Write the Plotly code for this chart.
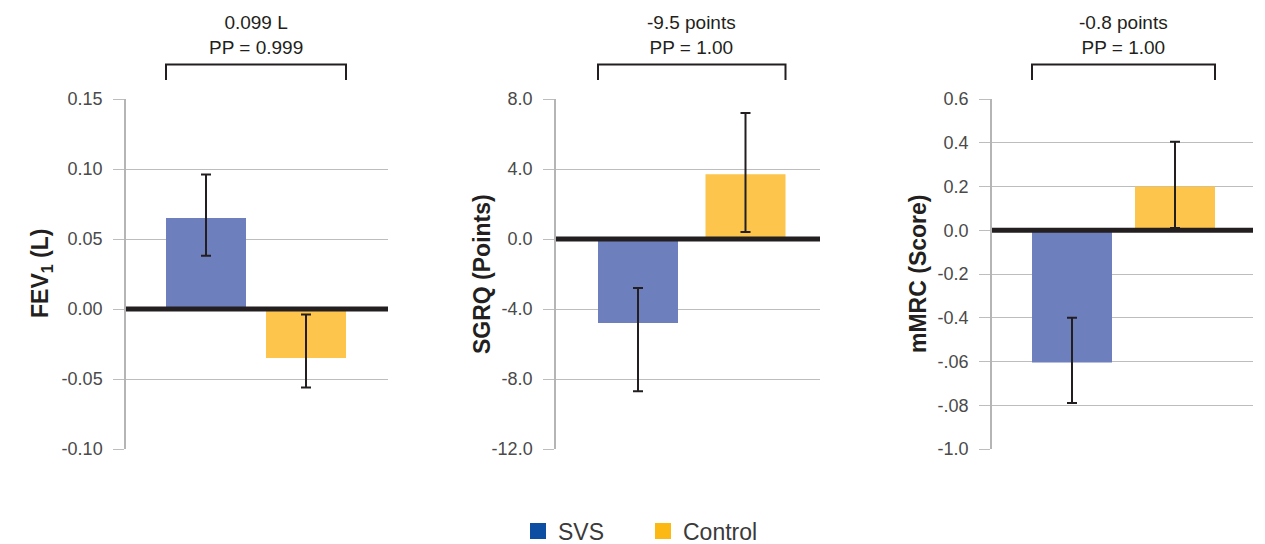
import plotly.graph_objects as go

# ---- data ----
groups = ["SVS", "Control"]

fev1_values = [0.065, -0.035]
fev1_high = [0.096, -0.004]
fev1_low = [0.038, -0.056]

sgrq_values = [-4.8, 3.7]
sgrq_high = [-2.8, 7.2]
sgrq_low = [-8.7, 0.4]

mmrc_values = [-0.605, 0.20]
mmrc_high = [-0.40, 0.405]
mmrc_low = [-0.79, 0.01]

fev1_ticks = [-0.10, -0.05, 0.0, 0.05, 0.10, 0.15]
fev1_ticktext = ["-0.10", "-0.05", "0.00", "0.05", "0.10", "0.15"]
sgrq_ticks = [-12, -8, -4, 0, 4, 8]
sgrq_ticktext = ["-12.0", "-8.0", "-4.0", "0.0", "4.0", "8.0"]
mmrc_ticks = [-1.0, -0.8, -0.6, -0.4, -0.2, 0.0, 0.2, 0.4, 0.6]
mmrc_ticktext = ["-1.0", "-.08", "-.06", "-0.4", "-0.2", "0.0", "0.2", "0.4", "0.6"]

axis_titles = ["FEV<sub>1</sub> (L)", "SGRQ (Points)", "mMRC (Score)"]
diff_labels = ["0.099 L<br>PP = 0.999", "-9.5 points<br>PP = 1.00", "-0.8 points<br>PP = 1.00"]

bar_colors = ["#6E7FBD", "#FDC54B"]
legend_colors = ["#0B4EA2", "#FDB913"]

FONT = "Liberation Sans, Arial, Helvetica, sans-serif"
OFF = 8  # page body margin
W, H = 1265 - OFF, 544 - OFF
PLOT_TOP, PLOT_BOT = 99 - OFF, 449 - OFF

# panel geometry (screen pixels): axis left, right, SVS centre, Control centre
panels = [
    dict(left=126, right=388, c0=206, c1=306, vals=fev1_values, hi=fev1_high, lo=fev1_low,
         yr=[-0.10, 0.15], tv=fev1_ticks, tt=fev1_ticktext, title_x=41),
    dict(left=556, right=820, c0=638, c1=745.5, vals=sgrq_values, hi=sgrq_high, lo=sgrq_low,
         yr=[-12, 8], tv=sgrq_ticks, tt=sgrq_ticktext, title_x=482),
    dict(left=992, right=1253, c0=1072, c1=1175, vals=mmrc_values, hi=mmrc_high, lo=mmrc_low,
         yr=[-1.0, 0.6], tv=mmrc_ticks, tt=mmrc_ticktext, title_x=918),
]

fig = go.Figure()
shapes = []
annotations = []
grid_color = "#BDBDBD"

def ypaper(px):
    return (PLOT_BOT - (px - OFF)) / (PLOT_BOT - PLOT_TOP)

def xpaper(px):
    return (px - OFF) / W

for i, p in enumerate(panels):
    n = "" if i == 0 else str(i + 1)
    xa, ya = "x" + n, "y" + n
    spacing = p["c1"] - p["c0"]
    width = 80 / spacing
    xr = [-(p["c0"] - p["left"]) / spacing, 1 + (p["right"] - p["c1"]) / spacing]
    for j, g in enumerate(groups):
        v = p["vals"][j]
        fig.add_trace(go.Bar(
            x=[j], y=[v], width=[width], marker=dict(color=bar_colors[j], line=dict(width=0)),
            error_y=dict(type="data", symmetric=False, array=[p["hi"][j] - v],
                         arrayminus=[v - p["lo"][j]], color="#231F20", thickness=2, width=5),
            xaxis=xa, yaxis=ya, showlegend=False, name=g, hoverinfo="skip"))
    dom = [xpaper(p["left"]), xpaper(p["right"])]
    fig.layout["xaxis" + n] = dict(domain=dom, range=xr, showgrid=False, zeroline=False,
                                   showticklabels=False, ticks="", showline=False, anchor=ya,
                                   fixedrange=True)
    fig.layout["yaxis" + n] = dict(domain=[0, 1], range=p["yr"], tickvals=p["tv"], ticktext=p["tt"],
                                   showgrid=True, gridcolor=grid_color, gridwidth=1.2,
                                   zeroline=False, showline=True, linecolor="#B5B5B5", linewidth=1.5,
                                   ticks="outside", ticklen=11, tickcolor=grid_color, tickwidth=1.2,
                                   ticklabelstandoff=7,
                                   tickfont=dict(family=FONT, size=18, color="#4A4A4A"),
                                   anchor=xa, fixedrange=True)
    # thick zero line
    shapes.append(dict(type="line", xref=xa + " domain", yref=ya, x0=0, x1=1, y0=0, y1=0,
                       line=dict(color="#231F20", width=5), layer="above"))
    # bracket
    x0, x1 = -width / 2, 1 + width / 2
    yt, yb = ypaper(64.5), ypaper(80)
    shapes.append(dict(type="path", xref=xa, yref="paper",
                       path=f"M {x0},{yb} L {x0},{yt} L {x1},{yt} L {x1},{yb}",
                       line=dict(color="#231F20", width=2)))
    annotations.append(dict(xref=xa, yref="paper", x=0.5, y=ypaper(35.5), text=diff_labels[i],
                            showarrow=False, xanchor="center", yanchor="middle",
                            font=dict(family=FONT, size=19, color="#231F20")))
    annotations.append(dict(xref="paper", yref="paper", x=xpaper(p["title_x"]), y=0.5,
                            text="<b>" + axis_titles[i] + "</b>", textangle=-90, showarrow=False,
                            xanchor="center", yanchor="middle",
                            font=dict(family=FONT, size=23, color="#231F20")))

# legend-only traces
for j, g in enumerate(groups):
    fig.add_trace(go.Scatter(x=[None], y=[None], mode="markers", name=g,
                             marker=dict(symbol="square", size=18, color=legend_colors[j]),
                             xaxis="x", yaxis="y", showlegend=True))

fig.update_layout(
    width=W, height=H,
    margin=dict(l=0, r=0, t=PLOT_TOP, b=H - PLOT_BOT, autoexpand=False),
    paper_bgcolor="white", plot_bgcolor="white",
    shapes=shapes, annotations=annotations,
    showlegend=True,
    legend=dict(orientation="h", xref="container", yref="container",
                x=(538 - 20 - OFF) / W, xanchor="left", y=1 - (531 - OFF) / H, yanchor="middle",
                font=dict(family=FONT, size=23, color="#3A3A3A"),
                entrywidth=80, entrywidthmode="pixels", itemclick=False, itemdoubleclick=False),
    font=dict(family=FONT),
)

fig.write_html("out.html")
